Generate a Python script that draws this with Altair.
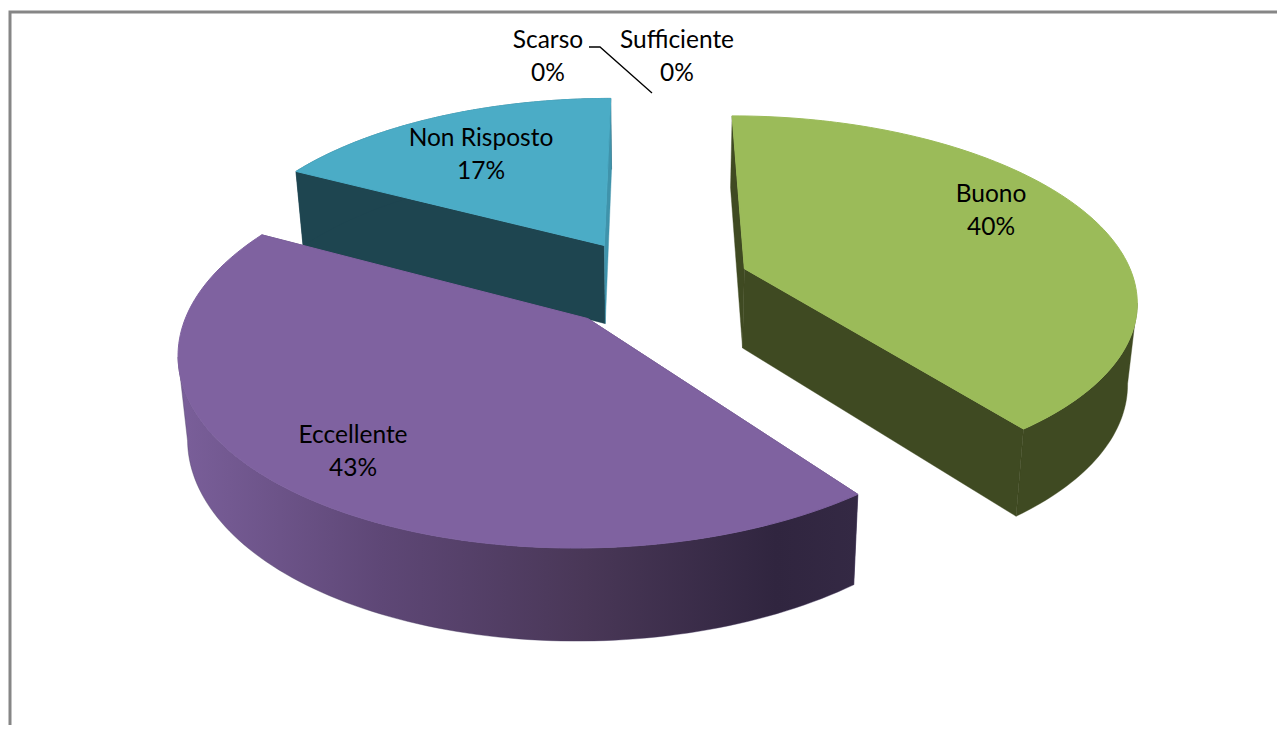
import numpy as np
import pandas as pd
import altair as alt

# ---- values ----
categories = ["Scarso", "Sufficiente", "Buono", "Eccellente", "Non Risposto"]
counts = [0, 0, 23, 25, 10]
label_x = [548, 677, 991, 353, 481]
label_y = [41, 41, 195, 436, 139]
top_colors = {"Buono": "#9BBB59", "Eccellente": "#7F62A0", "Non Risposto": "#4BACC6"}
side_colors = {"Buono": "#3F4A22", "Non Risposto": "#1E4550"}
end_face_colors = {"Buono": "#3F4A22", "Eccellente": "#3A2E4C", "Non Risposto": "#3F93AB"}
draw_order = ["Non Risposto", "Buono", "Eccellente"]

# ---- 3D pie view parameters ----
X0, Y0 = 653.0, 283.0      # screen position of the pie axis
RX, RY = 390.5, 181.0      # radius on screen
PERSP = 0.157              # perspective strength
DEPTH = 80.0               # extrusion on screen
BOTTOM_SHRINK = 0.98       # lower face is slightly further away
EXPLODE = 0.25             # slice explosion, in radii


def project(px, pv, lower=False):
    s = 1.0 / (1.0 + PERSP * pv)
    k = BOTTOM_SHRINK if lower else 1.0
    return X0 + RX * px * s * k, Y0 - RY * pv * s * k + (DEPTH * s if lower else 0.0)


# slice angles run clockwise from 12 o'clock, driven by the counts
total = sum(counts)
spans = {}
acc = 0.0
for name, count in zip(categories, counts):
    spans[name] = (acc, acc + count / total * 2 * np.pi)
    acc += count / total * 2 * np.pi


def slice_points(name):
    a, b = spans[name]
    mid = (a + b) / 2
    ox, ov = EXPLODE * np.sin(mid), EXPLODE * np.cos(mid)
    t = np.linspace(a, b, 120)
    return ox, ov, ox + np.sin(t), ov + np.cos(t)


def frame(xs, ys):
    return pd.DataFrame({"x": xs, "y": ys, "i": np.arange(len(xs))})


X = alt.X("x:Q", scale=alt.Scale(domain=[8, 1277], nice=False, zero=False), axis=None)
Y = alt.Y("y:Q", scale=alt.Scale(domain=[8, 725], reverse=True, nice=False, zero=False), axis=None)


def poly(xs, ys, fill, width=0.4):
    stroke = fill if isinstance(fill, str) else "#4A3C63"
    return alt.Chart(frame(xs, ys)).mark_line(
        fill=fill, stroke=stroke, strokeWidth=width, interpolate="linear-closed"
    ).encode(x=X, y=Y, order="i:Q")


rim_gradient = alt.Gradient(
    gradient="linear", x1=0, x2=1, y1=0, y2=0,
    stops=[
        alt.GradientStop(color="#7A5F9A", offset=0),
        alt.GradientStop(color="#5E4776", offset=0.30),
        alt.GradientStop(color="#493757", offset=0.60),
        alt.GradientStop(color="#30253F", offset=0.88),
        alt.GradientStop(color="#342944", offset=1),
    ],
)

layers = []

# chart frame
layers.append(
    alt.Chart(frame([10, 10, 1277], [725, 12, 12])).mark_line(
        stroke="#868686", strokeWidth=3
    ).encode(x=X, y=Y, order="i:Q")
)

for name in draw_order:
    ox, ov, rx, rv = slice_points(name)
    ax, ay = project(ox, ov)
    bx, by = project(ox, ov, lower=True)
    tx, ty = project(rx, rv)
    ux, uy = project(rx, rv, lower=True)
    side = side_colors.get(name, "#3A2E4C")
    a, b = spans[name]
    # only the part of the rim that faces the viewer: cut at the silhouette
    ti, ui = int(np.argmax(np.abs(tx - X0))), int(np.argmax(np.abs(ux - X0)))
    if a < np.pi / 2 < b:
        rim_x, rim_y = np.r_[tx[ti:], ux[ui:][::-1]], np.r_[ty[ti:], uy[ui:][::-1]]
    elif a < 1.5 * np.pi < b:
        rim_x, rim_y = np.r_[tx[:ti + 1], ux[:ui + 1][::-1]], np.r_[ty[:ti + 1], uy[:ui + 1][::-1]]
    else:
        rim_x, rim_y = np.r_[tx, ux[::-1]], np.r_[ty, uy[::-1]]
    # cut face at the start of the slice
    layers.append(poly([ax, tx[0], ux[0], bx], [ay, ty[0], uy[0], by], side))
    # outer rim
    rim_fill = rim_gradient if name == "Eccellente" else side
    layers.append(poly(rim_x, rim_y, rim_fill))
    # cut face at the end of the slice
    layers.append(poly([ax, tx[-1], ux[-1], bx], [ay, ty[-1], uy[-1], by], end_face_colors[name]))
    # top face
    layers.append(poly(np.r_[ax, tx], np.r_[ay, ty], top_colors[name], width=1.0))

# leader line of the zero slices
layers.append(
    alt.Chart(frame([589, 600, 652], [47, 47, 93])).mark_line(
        stroke="#000000", strokeWidth=1.3
    ).encode(x=X, y=Y, order="i:Q")
)

labels = pd.DataFrame({
    "x": label_x,
    "y": label_y,
    "t": [f"{c}\n{round(n / total * 100)}%" for c, n in zip(categories, counts)],
})
layers.append(
    alt.Chart(labels).mark_text(
        font="Lato", fontSize=24.5, color="#000000", lineBreak="\n",
        lineHeight=32.5, align="center", baseline="middle",
    ).encode(x=X, y=Y, text="t:N")
)

chart = alt.layer(*layers).properties(
    width=1269, height=717, background="white",
    padding={"left": 0, "top": 0, "right": 0, "bottom": 0},
    autosize=alt.AutoSizeParams(type="none", contains="padding"),
).configure_view(stroke=None)

chart.save("out.html", embed_options={"renderer": "svg", "actions": False})
